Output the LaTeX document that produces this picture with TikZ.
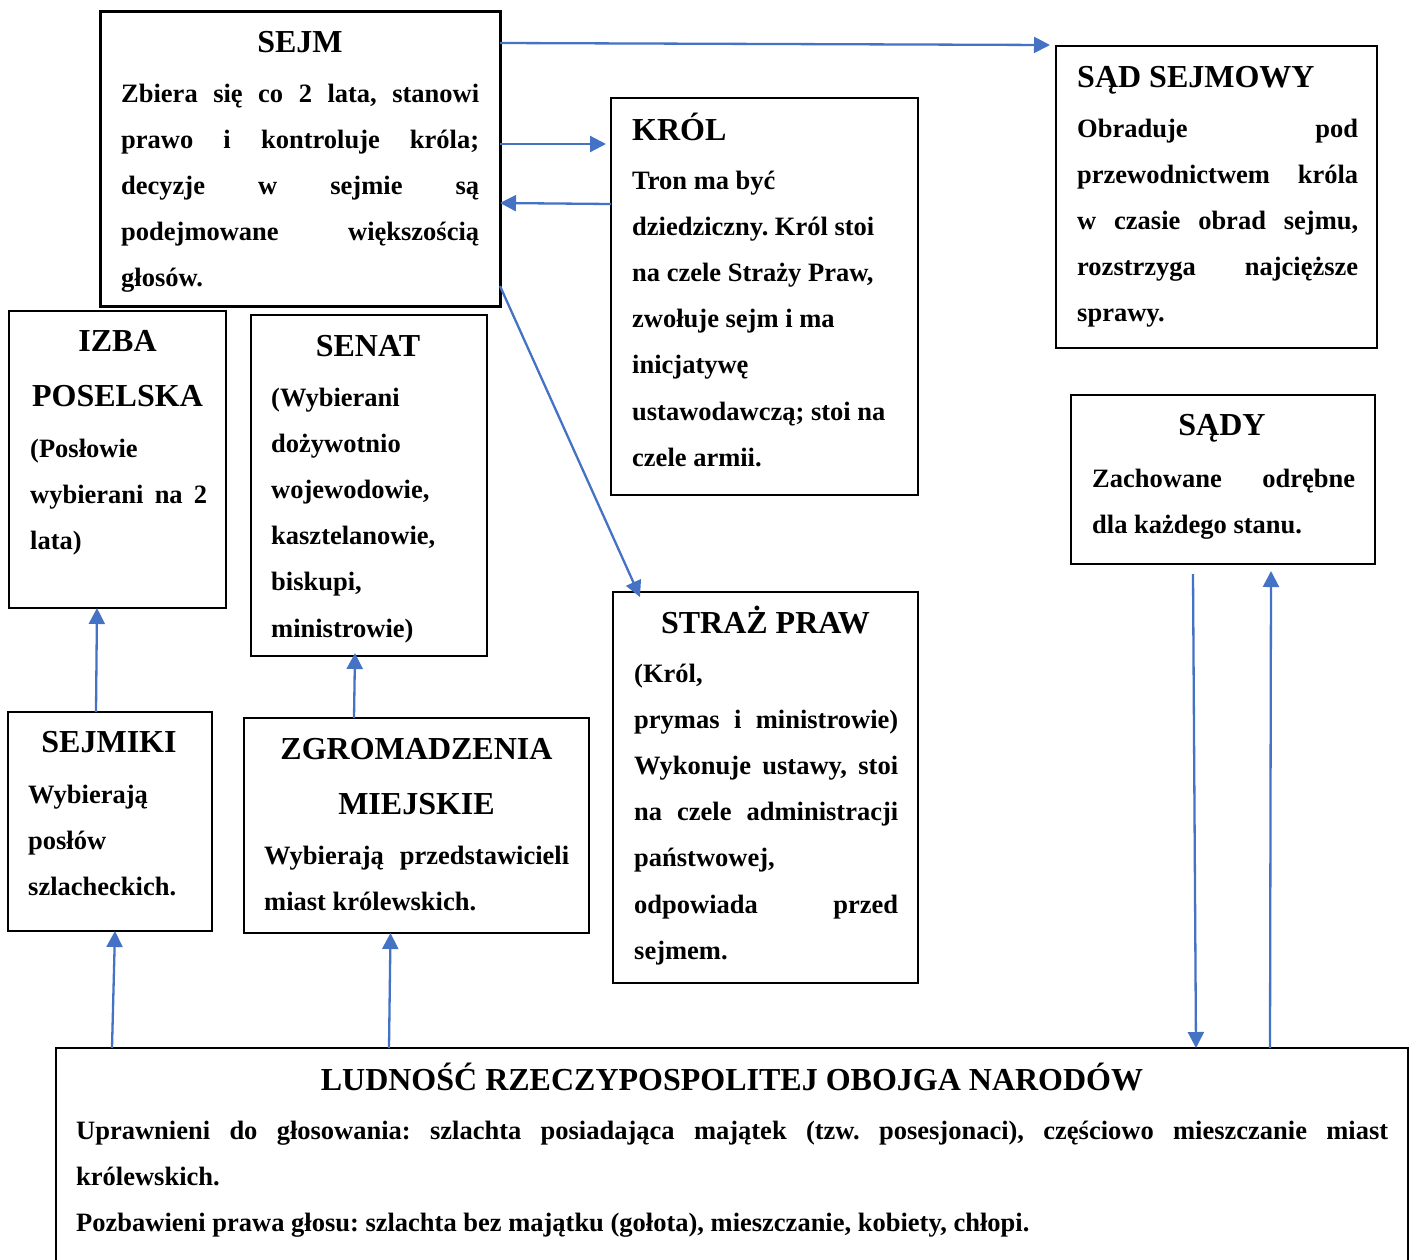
\documentclass[tikz,border=0pt]{standalone}
\usepackage{fontspec}
\setmainfont{Liberation Serif}
\usetikzlibrary{arrows.meta}
\definecolor{strzalka}{HTML}{4472C4}
\frenchspacing
\newcommand{\jl}[1]{\makebox[\linewidth][s]{#1}}
\newcommand{\tresc}[2]{\parbox[t]{#1}{\raggedright #2}}
\tikzset{
  blok/.style={draw, line width=1.2pt, inner sep=0pt, outer sep=0pt, anchor=north west},
  tytul/.style={font=\fontsize{32}{55}\selectfont\bfseries, inner sep=0pt, anchor=base},
  opis/.style={font=\fontsize{26.5}{46.2}\selectfont\bfseries, inner sep=0pt, anchor=base west},
  strz/.style={strzalka, line width=2.3pt, -{Triangle[length=16pt,width=16pt]}}
}

\begin{document}
\begin{tikzpicture}[x=1pt,y=-1pt]
\useasboundingbox (0,0) rectangle (1417,1259);

\node[blok, line width=3pt, minimum width=400pt, minimum height=295pt] (sejm) at (100,11) {};
\node[tytul] (sejmT) at (300,52) {SEJM};
\node[opis] (sejmO) at (121,102) {\tresc{358pt}{\jl{Zbiera się co 2 lata, stanowi}\\ \jl{prawo i kontroluje króla;}\\ \jl{decyzje w sejmie są}\\ \jl{podejmowane większością}\\ głosów.}};

\node[blok, minimum width=307pt, minimum height=397pt] (krol) at (611,98) {};
\node[tytul, anchor=base west] (krolT) at (632,140) {KRÓL};
\node[opis] (krolO) at (632,189) {\tresc{275pt}{Tron ma być\\ dziedziczny. Król stoi\\ na czele Straży Praw,\\ zwołuje sejm i ma\\ inicjatywę\\ ustawodawczą; stoi na\\ czele armii.}};

\node[blok, minimum width=321pt, minimum height=302pt] (sadsejm) at (1056,46) {};
\node[tytul, anchor=base west] (sadsejmT) at (1077,87) {SĄD SEJMOWY};
\node[opis] (sadsejmO) at (1077,137) {\tresc{281pt}{\jl{Obraduje pod}\\ \jl{przewodnictwem króla}\\ \jl{w czasie obrad sejmu,}\\ \jl{rozstrzyga najcięższe}\\ sprawy.}};

\node[blok, minimum width=217pt, minimum height=297pt] (izba) at (9,311) {};
\node[tytul] (izbaT) at (117.5,351) {\parbox[t]{210pt}{\centering IZBA\\ POSELSKA}};
\node[opis] (izbaO) at (30,457) {\tresc{177pt}{(Posłowie\\ \jl{wybierani na 2}\\ lata)}};

\node[blok, minimum width=236pt, minimum height=341pt] (senat) at (251,315) {};
\node[tytul] (senatT) at (368,356) {SENAT};
\node[opis] (senatO) at (271,406) {\tresc{210pt}{(Wybierani\\ dożywotnio\\ wojewodowie,\\ kasztelanowie,\\ biskupi,\\ ministrowie)}};

\node[blok, minimum width=305pt, minimum height=391pt] (straz) at (613,592) {};
\node[tytul] (strazT) at (765.5,633) {STRAŻ PRAW};
\node[opis] (strazO) at (634,682) {\tresc{264pt}{(Król,\\ \jl{prymas i ministrowie)}\\ \jl{Wykonuje ustawy, stoi}\\ \jl{na czele administracji}\\ państwowej,\\ \jl{odpowiada przed}\\ sejmem.}};

\node[blok, minimum width=304pt, minimum height=169pt] (sady) at (1071,395) {};
\node[tytul] (sadyT) at (1222,435) {SĄDY};
\node[opis] (sadyO) at (1092,487) {\tresc{263pt}{\jl{Zachowane odrębne}\\ dla każdego stanu.}};

\node[blok, minimum width=204pt, minimum height=219pt] (sejmiki) at (8,712) {};
\node[tytul] (sejmikiT) at (109,752) {SEJMIKI};
\node[opis] (sejmikiO) at (28,803) {\tresc{175pt}{Wybierają\\ posłów\\ szlacheckich.}};

\node[blok, minimum width=345pt, minimum height=215pt] (zgrom) at (244,718) {};
\node[tytul] (zgromT) at (416.5,759) {\parbox[t]{340pt}{\centering ZGROMADZENIA\\ MIEJSKIE}};
\node[opis] (zgromO) at (264,864) {\tresc{305pt}{\jl{Wybierają przedstawicieli}\\ miast królewskich.}};

\node[blok, minimum width=1352pt, minimum height=230pt] (ludnosc) at (56,1048) {};
\node[tytul] (ludnoscT) at (732,1090) {LUDNOŚĆ RZECZYPOSPOLITEJ OBOJGA NARODÓW};
\node[opis] (ludnoscO) at (76,1139) {\tresc{1312pt}{\jl{Uprawnieni do głosowania: szlachta posiadająca majątek (tzw. posesjonaci), częściowo mieszczanie miast}\\ królewskich.\\ Pozbawieni prawa głosu: szlachta bez majątku (gołota), mieszczanie, kobiety, chłopi.}};

\draw[strz] ([yshift=-32pt]sejm.north east) -- ([xshift=-6pt,yshift=1pt]sadsejm.north west);
\draw[strz] ([yshift=-133pt]sejm.north east) -- ([xshift=-5pt,yshift=-46pt]krol.north west);
\draw[strz] ([yshift=-106pt]krol.north west) -- ([yshift=-192pt]sejm.north east);
\draw[strz] ([yshift=-275pt]sejm.north east) -- ([xshift=27pt,yshift=-5pt]straz.north west);
\draw[strz] ([xshift=88pt]sejmiki.north west) -- ([xshift=88pt]izba.south west);
\draw[strz] ([xshift=110pt]zgrom.north west) -- ([xshift=104pt,yshift=3pt]senat.south west);
\draw[strz] ([xshift=56pt]ludnosc.north west) -- ([xshift=107pt]sejmiki.south west);
\draw[strz] ([xshift=333pt]ludnosc.north west) -- ([xshift=146.5pt]zgrom.south west);
\draw[strz] ([xshift=122pt,yshift=-10pt]sady.south west) -- ([xshift=1140pt]ludnosc.north west);
\draw[strz] ([xshift=1214pt]ludnosc.north west) -- ([xshift=200pt,yshift=-7pt]sady.south west);
\end{tikzpicture}
\end{document}
